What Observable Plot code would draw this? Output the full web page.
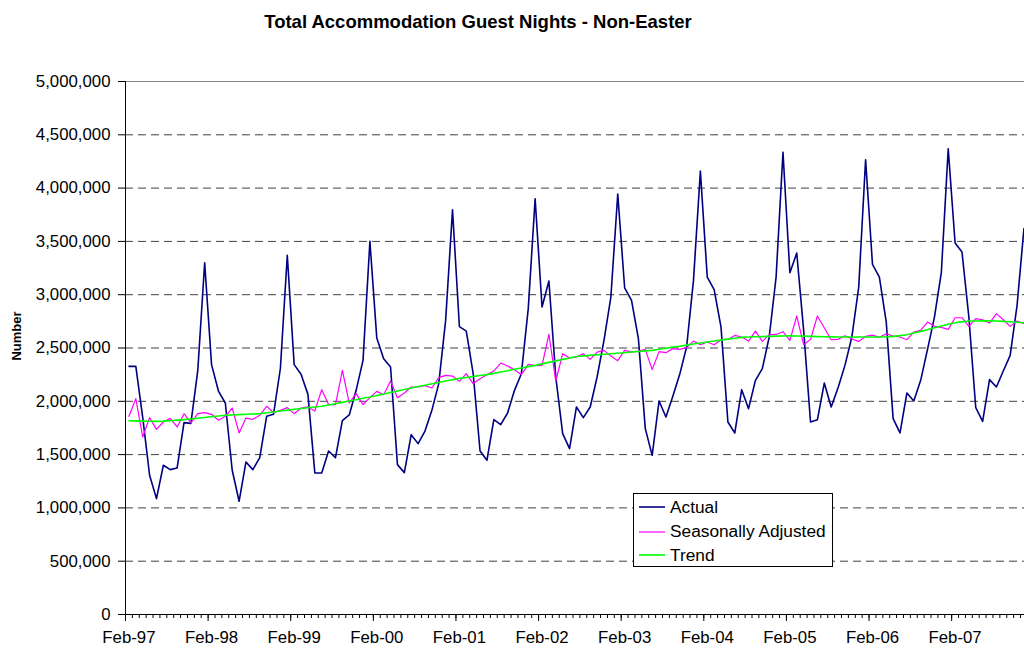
<!DOCTYPE html>
<html>
<head>
<meta charset="utf-8">
<script src="https://cdn.jsdelivr.net/npm/d3@7"></script>
<script src="https://cdn.jsdelivr.net/npm/@observablehq/plot@0.6"></script>
<style>
  html, body { margin: 0; padding: 0; background: #fff; }
  body { width: 1024px; height: 648px; overflow: hidden; position: relative; font-family: "Liberation Sans", Arial, sans-serif; }
  #title { width: 956px; height: 45px; box-sizing: border-box; padding-top: 11px; text-align: center; font-weight: bold; font-size: 18.5px; line-height: 22px; color: #000; }
  #ylabel { position: absolute; left: 16px; top: 336px; transform: translate(-50%, -50%) rotate(-90deg); font-weight: bold; font-size: 13px; white-space: nowrap; }
  #legend { position: absolute; left: 633px; top: 493px; width: 200px; height: 74px; box-sizing: border-box; border: 1px solid #000; background: #fff; font-size: 17.3px; }
  .lrow { position: absolute; left: 0; height: 20px; display: flex; align-items: center; }
  .lrow svg { margin-left: 5px; margin-right: 5px; display: block; }
</style>
</head>
<body>
<div id="title">Total Accommodation Guest Nights - Non-Easter</div>
<div id="chart"></div>
<div id="ylabel">Number</div>
<div id="legend"></div>
<script>
// Monthly guest nights (thousands), Feb-97 .. Dec-07
const actual = [
  2328, 2328, 1850, 1306, 1087, 1400, 1359, 1375, 1800, 1793, 2290, 3300,
  2344, 2096, 1984, 1353, 1062, 1431, 1359, 1472, 1859, 1878, 2310, 3370,
  2344, 2253, 2065, 1328, 1328, 1534, 1472, 1818, 1872, 2103, 2384, 3500,
  2593, 2400, 2322, 1406, 1331, 1687, 1603, 1721, 1915, 2166, 2759, 3797,
  2700, 2659, 2259, 1534, 1447, 1828, 1781, 1890, 2103, 2259, 2869, 3900,
  2884, 3128, 2228, 1697, 1556, 1947, 1847, 1947, 2228, 2572, 2978, 3945,
  3065, 2947, 2587, 1744, 1493, 2003, 1853, 2047, 2253, 2509, 3134, 4159,
  3165, 3047, 2696, 1806, 1703, 2109, 1931, 2197, 2306, 2603, 3165, 4337,
  3206, 3390, 2665, 1806, 1828, 2171, 1947, 2128, 2337, 2603, 3071, 4266,
  3284, 3165, 2743, 1837, 1703, 2078, 2003, 2197, 2490, 2790, 3208, 4369,
  3485, 3400, 2790, 1940, 1812, 2203, 2134, 2284, 2431, 2900, 3620
];
const seasAdj = [
  1859, 2025, 1665, 1847, 1737, 1806, 1840, 1759, 1884, 1797, 1884, 1894,
  1878, 1822, 1859, 1937, 1703, 1843, 1831, 1869, 1953, 1894, 1915, 1941,
  1884, 1937, 1947, 1909, 2109, 1969, 1969, 2290, 1984, 2072, 1969, 2034,
  2093, 2062, 2190, 2034, 2078, 2134, 2134, 2147, 2125, 2222, 2243, 2237,
  2187, 2259, 2166, 2212, 2250, 2284, 2359, 2331, 2297, 2250, 2347, 2334,
  2337, 2628, 2190, 2447, 2406, 2415, 2447, 2393, 2462, 2478, 2425, 2381,
  2478, 2462, 2472, 2487, 2297, 2466, 2456, 2494, 2487, 2503, 2565, 2531,
  2556, 2531, 2578, 2580, 2618, 2603, 2565, 2659, 2562, 2625, 2627, 2653,
  2572, 2800, 2531, 2581, 2800, 2690, 2578, 2581, 2615, 2584, 2562, 2609,
  2621, 2600, 2634, 2612, 2603, 2578, 2650, 2665, 2743, 2703, 2693, 2675,
  2784, 2784, 2703, 2775, 2765, 2734, 2822, 2765, 2703, 2753, 2728
];
const trend = [
  1818, 1816, 1814, 1813, 1812, 1814, 1818, 1823, 1828, 1834, 1841, 1848,
  1855, 1862, 1869, 1872, 1875, 1878, 1881, 1884, 1892, 1900, 1909, 1917,
  1925, 1932, 1939, 1946, 1953, 1965, 1977, 1990, 2002, 2015, 2028, 2040,
  2054, 2068, 2082, 2097, 2111, 2125, 2138, 2151, 2164, 2177, 2190, 2203,
  2215, 2224, 2233, 2242, 2250, 2262, 2275, 2287, 2300, 2312, 2325, 2337,
  2351, 2365, 2379, 2393, 2407, 2420, 2426, 2431, 2436, 2441, 2446, 2451,
  2456, 2462, 2467, 2473, 2478, 2488, 2498, 2508, 2517, 2527, 2537, 2547,
  2556, 2565, 2574, 2583, 2592, 2600, 2603, 2605, 2607, 2609, 2611, 2613,
  2615, 2613, 2611, 2609, 2607, 2605, 2604, 2603, 2603, 2603, 2603, 2603,
  2603, 2603, 2603, 2609, 2616, 2625, 2640, 2656, 2672, 2690, 2706, 2722,
  2737, 2745, 2753, 2753, 2754, 2754, 2753, 2750, 2746, 2742, 2737
];
const yearLabels = ["Feb-97","Feb-98","Feb-99","Feb-00","Feb-01","Feb-02","Feb-03","Feb-04","Feb-05","Feb-06","Feb-07"];
const yTicks = [0, 500000, 1000000, 1500000, 2000000, 2500000, 3000000, 3500000, 4000000, 4500000, 5000000];
const seriesNames = ["Actual", "Seasonally Adjusted", "Trend"];
const seriesColors = ["#000080", "#FF00FF", "#00FF00"];
const seriesWidths = [1.6, 1.2, 1.6];

const seriesData = [actual, seasAdj, trend];
const tables = seriesData.map((arr, s) => arr.map((v, i) => ({i, v: v * 1000, series: seriesNames[s]})));
const nMonths = actual.length;
const bounds = d3.range(nMonths + 1).map(i => i - 0.5);
const majorBounds = bounds.filter((b, k) => k % 12 === 0);
const labelIdx = yearLabels.map((_, k) => k * 12);

const chart = Plot.plot({
  width: 1024,
  height: 603,
  marginLeft: 125,
  marginRight: 0,
  marginTop: 36,
  marginBottom: 34,
  style: {fontFamily: "'Liberation Sans', Arial, sans-serif", fontSize: "16.8px", background: "#fff", color: "#000"},
  x: {domain: [-0.5, 130.08], axis: null},
  y: {domain: [0, 5000000], axis: null},
  marks: [
    Plot.ruleY(yTicks.filter(d => d > 0 && d < 5000000), {stroke: "#000", strokeOpacity: 0.75, strokeDasharray: "8,5"}),
    Plot.ruleY([5000000], {stroke: "#888"}),
    ...tables.map((t, s) => Plot.line(t, {x: "i", y: "v", stroke: seriesColors[s], strokeWidth: seriesWidths[s], clip: true})),
    Plot.ruleX([-0.5], {stroke: "#000", strokeWidth: 1}),
    Plot.ruleY([0], {stroke: "#000", strokeWidth: 1}),
    Plot.axisY(yTicks, {label: null, tickSize: 7, tickPadding: 8, tickFormat: d3.format(","), stroke: "#000", fill: "#000"}),
    Plot.axisX(bounds, {label: null, tickSize: 4, tickFormat: () => "", stroke: "#000"}),
    Plot.axisX(majorBounds, {label: null, tickSize: 7, tickFormat: () => "", stroke: "#000"}),
    Plot.axisX(labelIdx, {label: null, tickSize: 0, tickPadding: 17, tickFormat: i => yearLabels[i / 12], fill: "#000"})
  ]
});
document.getElementById("chart").appendChild(chart);

const legend = document.getElementById("legend");
const rowCenters = [13, 37.5, 61];
const svgNS = "http://www.w3.org/2000/svg";
seriesNames.forEach((name, s) => {
  const row = document.createElement("div");
  row.className = "lrow";
  row.style.top = (rowCenters[s] - 10) + "px";
  const sw = document.createElementNS(svgNS, "svg");
  sw.setAttribute("width", "26");
  sw.setAttribute("height", "6");
  const ln = document.createElementNS(svgNS, "line");
  ln.setAttribute("x1", "0"); ln.setAttribute("x2", "26");
  ln.setAttribute("y1", "3"); ln.setAttribute("y2", "3");
  ln.setAttribute("stroke", seriesColors[s]);
  ln.setAttribute("stroke-width", String(seriesWidths[s]));
  sw.appendChild(ln);
  const tx = document.createElement("span");
  tx.textContent = name;
  row.appendChild(sw);
  row.appendChild(tx);
  legend.appendChild(row);
});
</script>
</body>
</html>
